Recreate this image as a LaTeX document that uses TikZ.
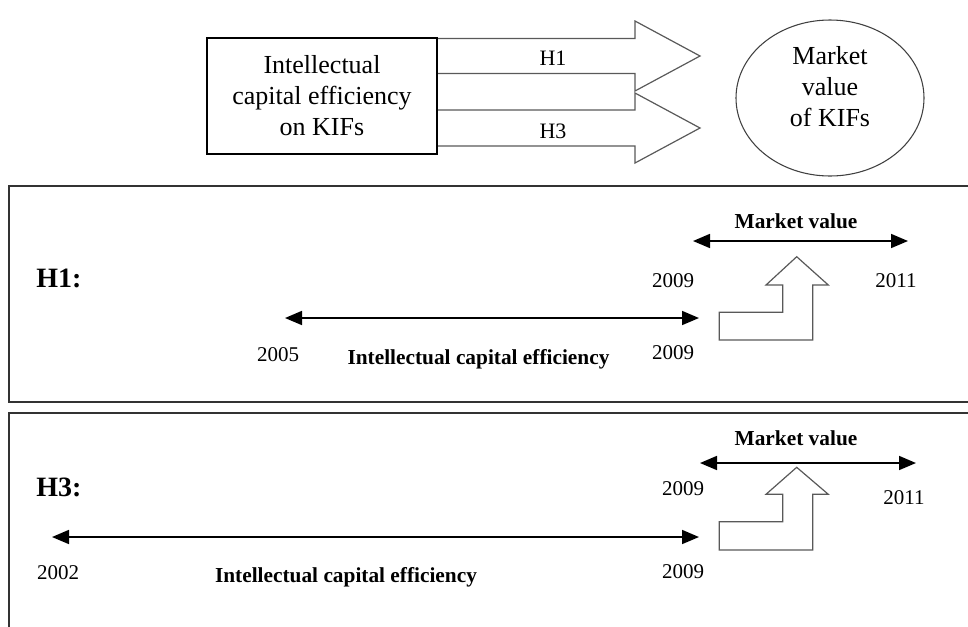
\documentclass[tikz,border=0pt]{standalone}
\usepackage{fontspec}
\setmainfont{Liberation Serif}
\usetikzlibrary{arrows.meta,shapes.geometric}
\begin{document}
\begin{tikzpicture}[x=0.75pt,y=-0.75pt,
  boxtext/.style={font=\fontsize{19.5pt}{22.9pt}\selectfont, align=center, inner sep=0pt},
  hlabel/.style={font=\fontsize{16.5pt}{19pt}\selectfont, inner sep=0pt},
  panelhead/.style={font=\bfseries\fontsize{21pt}{24pt}\selectfont, inner sep=0pt, anchor=west},
  boldlab/.style={font=\bfseries\fontsize{16pt}{19pt}\selectfont, inner sep=0pt},
  year/.style={font=\fontsize{15.75pt}{18pt}\selectfont, inner sep=0pt},
  blockarrow/.style={draw=black!65, line width=0.9pt, fill=white, line join=miter},
  panel/.style={draw=black!80, line width=1.1pt},
  timeline/.style={draw=black, line width=1.25pt, {Triangle[length=12.75pt,width=10.5pt]}-{Triangle[length=12.75pt,width=10.5pt]}},
  timeright/.style={draw=black, line width=1.25pt, -{Triangle[length=12.75pt,width=10.5pt]}},
  timeleft/.style={draw=black, line width=1.25pt, {Triangle[length=12.75pt,width=10.5pt]}-},
]
\useasboundingbox (0,0) rectangle (968,626);

% ---- top part ----
\draw[blockarrow] (437,38.5) -- (635,38.5) -- (635,21) -- (700,56) -- (635,91) -- (635,73.5) -- (437,73.5);
\draw[blockarrow] (437,110) -- (635,110) -- (635,93) -- (700,128) -- (635,163) -- (635,146) -- (437,146);
\node[draw=black, line width=0.9pt, fill=white, minimum width=172.5pt, minimum height=87pt, inner sep=0pt] (ice) at (322,96) {};
\node[boxtext] (icetext) at (322,95.6) {Intellectual\\capital efficiency\\on KIFs};
\node[hlabel] (h1lab) at (553,58.5) {H1};
\node[hlabel] (h3lab) at (553,131.5) {H3};
\node[ellipse, draw=black!75, line width=0.8pt, minimum width=141pt, minimum height=117pt, inner sep=0pt] (mv) at (830,98) {};
\node[boxtext] (mvtext) at (830,86.6) {Market\\value\\of KIFs};

% ---- panels ----
\draw[panel] (970,186) -- (9,186) -- (9,402) -- (970,402);
\draw[panel] (970,413) -- (9,413) -- (9,630);

% ---- H1 panel ----
\node[panelhead] (h1) at (36,278.5) {H1:};
\node[boldlab] (mv1) at (796,221) {Market value};
\coordinate (mv1l) at (693,241);
\coordinate (mv1r) at (908,241);
\draw[timeline] (mv1l) -- (mv1r);
\node[year] (y1a) at (673,281) {2009};
\node[year] (y1b) at (896,281) {2011};
\coordinate (ice1l) at (285,318);
\coordinate (ice1r) at (699,318);
\draw[timeline] (ice1l) -- (ice1r);
\node[year] (y1c) at (278,355) {2005};
\node[year] (y1d) at (673,353) {2009};
\node[boldlab] (ice1) at (478.5,359.5) {Intellectual capital efficiency};
\draw[blockarrow] (719.3,340) -- (719.3,312.3) -- (782.7,312.3) -- (782.7,285) -- (766,285) -- (796.7,256.7) -- (828.3,285) -- (812.7,285) -- (812.7,340) -- cycle;

% ---- H3 panel ----
\node[panelhead] (h3) at (36,487) {H3:};
\node[boldlab] (mv3) at (796,438) {Market value};
\coordinate (mv3l) at (700,463);
\coordinate (mv3r) at (916,463);
\draw[timeline] (mv3l) -- (mv3r);
\node[year] (y3a) at (683,489) {2009};
\node[year] (y3b) at (904,498) {2011};
\coordinate (ice3l) at (52,537);
\coordinate (ice3r) at (699,537);
\draw[timeline] (ice3l) -- (ice3r);
\node[year] (y3c) at (58,573) {2002};
\node[year] (y3d) at (683,572) {2009};
\node[boldlab] (ice3) at (346,577) {Intellectual capital efficiency};
\draw[blockarrow] (719.3,550) -- (719.3,521.7) -- (782.7,521.7) -- (782.7,494.3) -- (766,494.3) -- (796.7,467.3) -- (828.3,494.3) -- (812.7,494.3) -- (812.7,550) -- cycle;
\end{tikzpicture}
\end{document}
